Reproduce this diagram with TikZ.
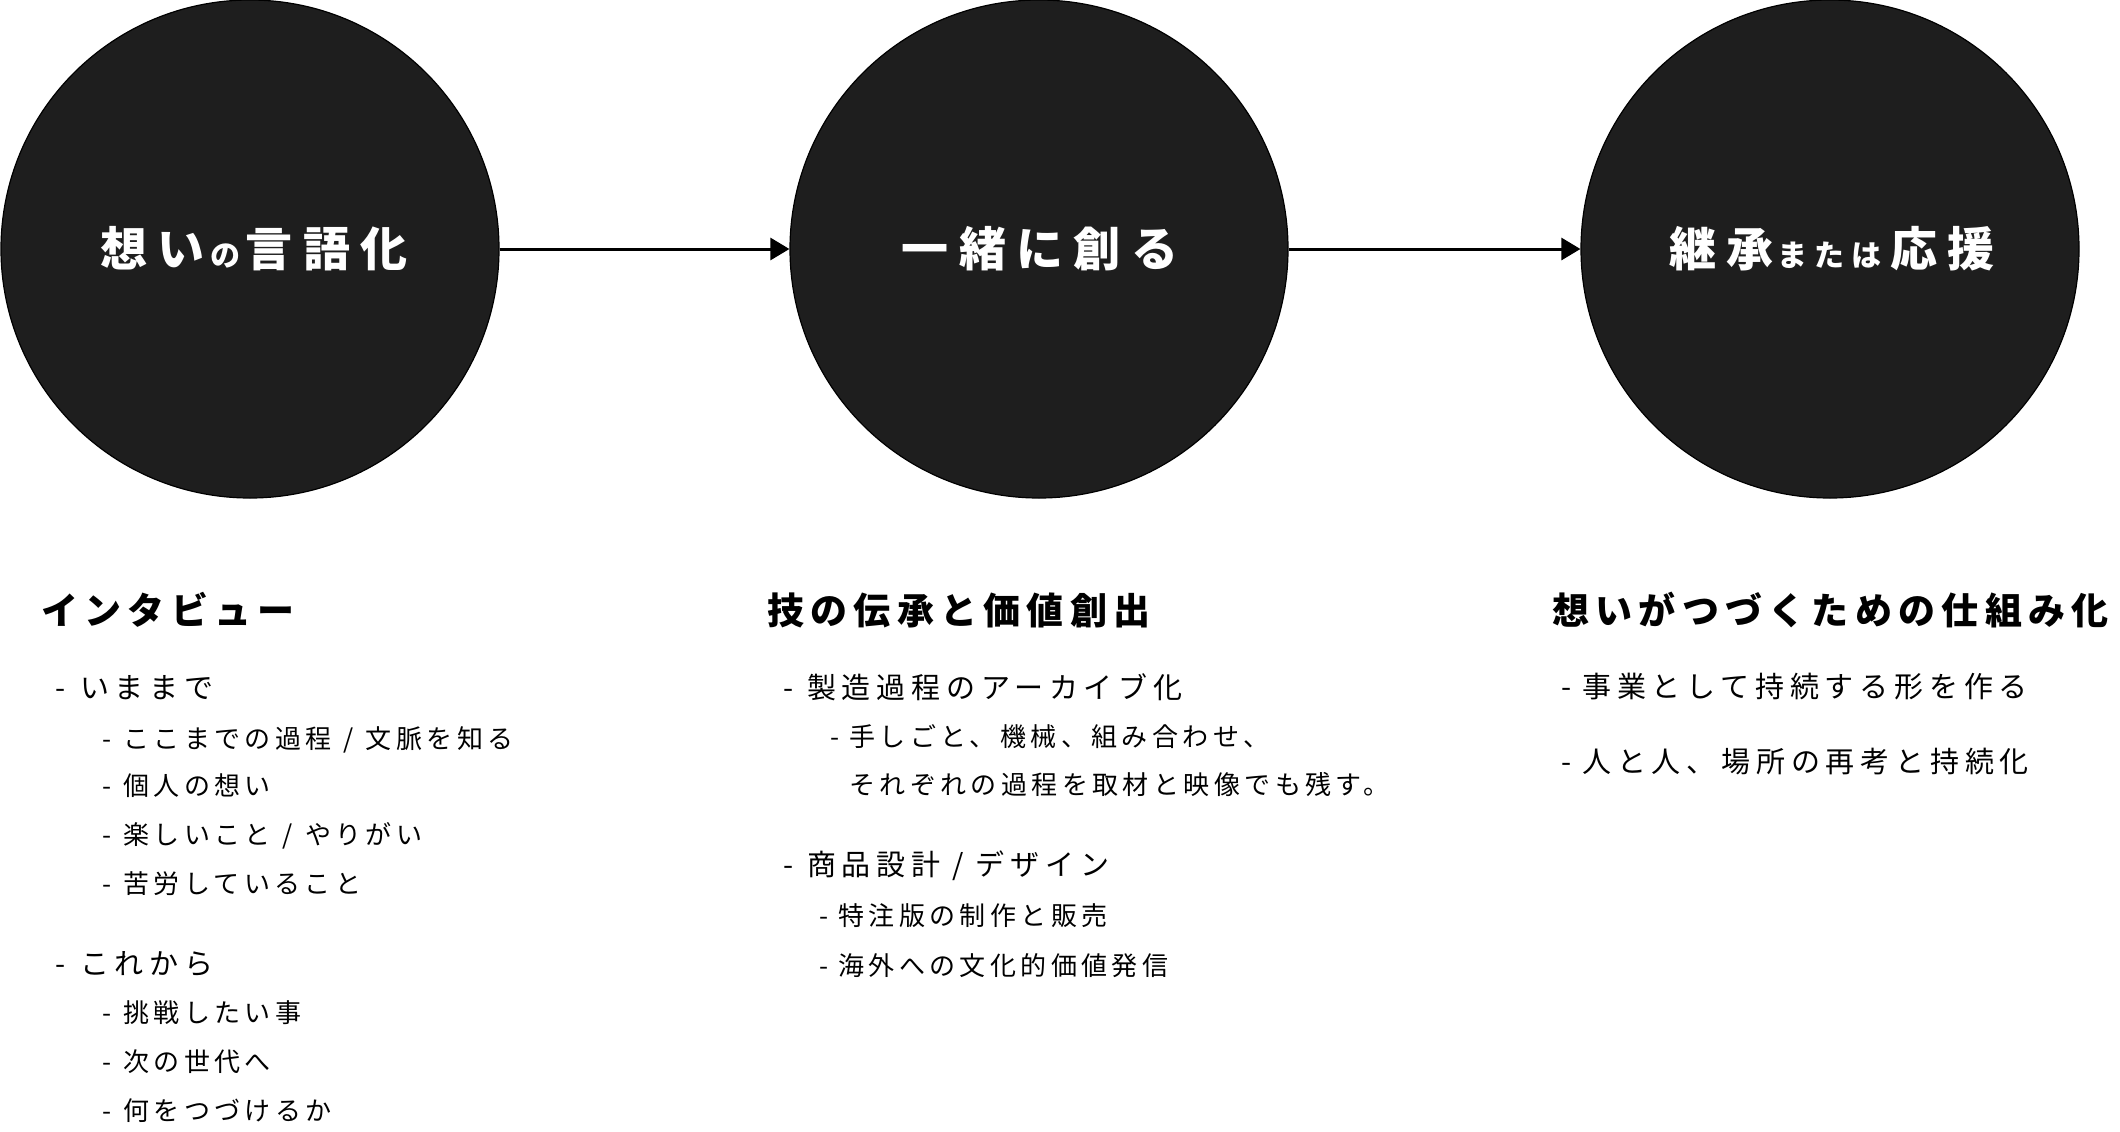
\documentclass[tikz,border=0pt]{standalone}
\usepackage{fontspec}
\usetikzlibrary{arrows.meta}
\setmainfont{Noto Sans CJK JP}
\newfontfamily\circfont{Noto Sans CJK JP}[LetterSpace=22]
\newfontfamily\titfont{Noto Sans CJK JP}[LetterSpace=17]
\newfontfamily\lonefont{Noto Sans CJK JP}[LetterSpace=20]
\newfontfamily\ltwofont{Noto Sans CJK JP}[LetterSpace=17]
\definecolor{circfill}{HTML}{1E1E1E}
\newcommand\dsh[1]{\makebox[#1][l]{-}}
\newcommand\slsh{\hspace{12pt}/\hspace{12pt}}
\newcommand\smallkana[1]{{\fontsize{30}{31}\selectfont #1}}
\begin{document}
\begin{tikzpicture}[x=1pt,y=-1pt,
  circ/.style={circle, minimum size=498pt, inner sep=0pt, fill=circfill, draw=black, line width=1.2pt},
  ctext/.style={text=white, inner sep=0pt, font=\circfont\bfseries\fontsize{47}{50}\selectfont},
  ttl/.style={anchor=base west, inner sep=0pt, font=\titfont\bfseries\fontsize{37}{40}\selectfont},
  lone/.style={anchor=base west, inner sep=0pt, font=\lonefont\fontsize{29}{32}\selectfont},
  ltwo/.style={anchor=base west, inner sep=0pt, font=\ltwofont\fontsize{26}{30}\selectfont},
  arr/.style={-{Triangle[length=19pt,width=22pt]}, line width=3pt}]
\useasboundingbox (0,0) rectangle (2120,1132);
% circles
\node[circ] (c1) at (250,249) {};
\node[circ] (c2) at (1039,249) {};
\node[circ] (c3) at (1830,249) {};
\node[ctext] (t1) at (249,249) {想い\kern6pt\smallkana{の}\kern5pt言語化\kern-10pt};
\node[ctext] (t2) at (1035,249) {一緒に創る\kern-10pt};
\node[ctext] (t3) at (1827,249) {継承\kern4pt\smallkana{または}\kern9pt応援\kern-10pt};
\draw[arr] (c1) -- (c2);
\draw[arr] (c2) -- (c3);
% left column
\node[ttl] (h1) at (41,624) {インタビュー};
\node[lone] (a1) at (55,698) {\dsh{25pt}いままで};
\node[ltwo] (a2) at (102,748) {\dsh{21pt}ここまでの過程\slsh 文脈を知る};
\node[ltwo] (a3) at (102,795) {\dsh{21pt}個人の想い};
\node[ltwo] (a4) at (102,844) {\dsh{21pt}楽しいこと\slsh やりがい};
\node[ltwo] (a5) at (102,893) {\dsh{21pt}苦労していること};
\node[lone] (a6) at (55,974) {\dsh{25pt}これから};
\node[ltwo] (a7) at (102,1022) {\dsh{21pt}挑戦したい事};
\node[ltwo] (a8) at (102,1071) {\dsh{21pt}次の世代へ};
\node[ltwo] (a9) at (102,1120) {\dsh{21pt}何をつづけるか};
% middle column
\node[ttl] (h2) at (767,624) {技の伝承と価値創出};
\node[lone] (b1) at (783,698) {\dsh{24pt}製造過程のアーカイブ化};
\node[ltwo] (b2) at (830,746) {\dsh{19pt}手しごと、機械、組み合わせ、};
\node[ltwo] (b3) at (849,794) {それぞれの過程を取材と映像でも残す。};
\node[lone] (b4) at (783,875) {\dsh{24pt}商品設計\slsh デザイン};
\node[ltwo] (b5) at (819,925) {\dsh{19pt}特注版の制作と販売};
\node[ltwo] (b6) at (819,975) {\dsh{19pt}海外への文化的価値発信};
% right column
\node[ttl] (h3) at (1552,624) {想いがつづくための仕組み化};
\node[lone] (r1) at (1561,697) {\dsh{21pt}事業として持続する形を作る};
\node[lone] (r2) at (1561,772) {\dsh{21pt}人と人、場所の再考と持続化};
\end{tikzpicture}
\end{document}
